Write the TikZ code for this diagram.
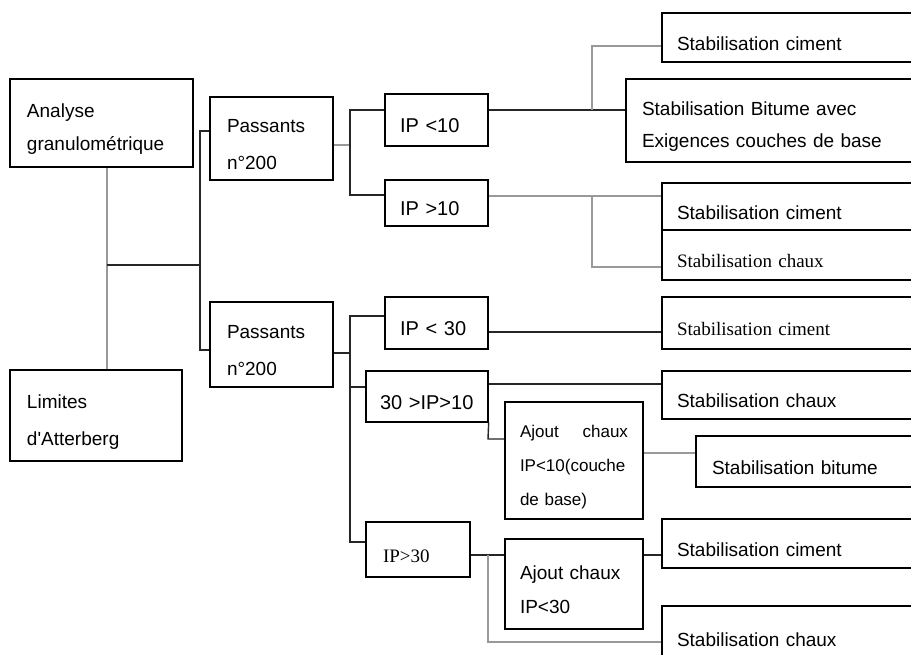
\documentclass[tikz,border=0pt]{standalone}
\usepackage{fontspec}
\newfontfamily\sansf{Liberation Sans}
\newfontfamily\romf{Liberation Serif}
\newcommand\fs[2]{\fontsize{#1}{#2}\selectfont}
\newcommand\xd{793.5}
\newcommand\ys{34}

\begin{document}
\begin{tikzpicture}[x=1pt,y=-1pt,
    boite/.style={draw=black,line width=1.3pt,align=left,inner ysep=0pt,inner xsep=16pt,text height=26pt,font=\sansf\fs{19}{\ys}},
    lien/.style={line width=1.4pt,black!85},
    gris/.style={line width=1.4pt,black!40}]
  \useasboundingbox (0,0) rectangle (911,655);
  \fill[white] (0,0) rectangle (911,655);
  \clip (0,0) rectangle (911,655);

  % colonne de gauche
  \node[boite,text width=149pt,inner xsep=17pt,minimum height=88pt,font=\sansf\fs{19}{33}] (ana) at (101.5,123) {Analyse\\granulométrique};
  \node[boite,text width=138pt,inner xsep=17pt,minimum height=91pt,font=\sansf\fs{19}{37}] (lim) at (96,415.5) {Limites\\d'Atterberg};
  \node[boite,text width=89pt,inner xsep=17pt,minimum height=83pt,font=\sansf\fs{19}{37}] (pas1) at (271.5,138.5) {Passants\\n°200};
  \node[boite,text width=89pt,inner xsep=17pt,minimum height=85pt,font=\sansf\fs{19}{37}] (pas2) at (271.5,344.5) {Passants\\n°200};

  % indices de plasticite
  \node[boite,text width=73pt,inner xsep=15pt,minimum height=52pt,font=\sansf\fs{20}{24}] (ipa) at (436.5,120) {IP~<10};
  \node[boite,text width=73pt,inner xsep=15pt,minimum height=46pt,font=\sansf\fs{20}{24}] (ipb) at (436.5,203) {IP~>10};
  \node[boite,text width=73pt,inner xsep=15pt,minimum height=52pt,font=\sansf\fs{20}{24}] (ipc) at (436.5,323) {IP~<~30};
  \node[boite,text width=94pt,inner xsep=14pt,minimum height=51pt,font=\sansf\fs{20}{24}] (ipd) at (427,396.5) {30~>IP>10};
  \node[boite,text width=70pt,inner xsep=17pt,minimum height=55pt,font=\romf\fs{19}{24}] (ipe) at (418,549.5) {IP>30};
  \node[boite,text width=108pt,inner xsep=15pt,minimum height=117pt,font=\sansf\fs{17}{34}] (aj1) at (574,460.5) {Ajout\hfill chaux\\IP<10(couche\\de base)};
  \node[boite,text width=108pt,inner xsep=15pt,minimum height=90pt] (aj2) at (574,584) {Ajout chaux\\IP<30};

  % stabilisations
  \foreach \n/\yc/\h/\ff/\t in {sc1/37.5/49/\sansf/Stabilisation ciment,
      sc2/206.5/47/\sansf/Stabilisation ciment, ch1/255/50/\romf/Stabilisation chaux,
      sc3/323/52/\romf/Stabilisation ciment, ch2/395/48/\sansf/Stabilisation chaux,
      sc4/543.5/49/\sansf/Stabilisation ciment, ch3/634/56/\sansf/Stabilisation chaux}
    \node[boite,text width=233pt,inner xsep=15pt,minimum height=\h pt,font=\ff\fs{19}{\ys}] (\n) at (\xd,\yc) {\t};
  \node[boite,text width=267pt,minimum height=83pt,font=\sansf\fs{19}{32}] (bit) at (775.5,120.5) {Stabilisation Bitume avec\\Exigences couches de base};
  \node[boite,text width=197pt,minimum height=51pt] (bitu) at (810.5,461.5) {Stabilisation bitume};

  % liaisons
  \coordinate (ja) at (107,265);
  \coordinate (jb) at (200,265);
  \coordinate (jb1) at (200,131);
  \coordinate (jb2) at (200,350);
  \draw[gris] (ja |- ana.south) -- (ja |- lim.north);
  \draw[lien] (ja) -- (jb);
  \draw[lien] (jb1 -| pas1.west) -- (jb1) -- (jb2) -- (jb2 -| pas2.west);

  \coordinate (jc) at (350,145);
  \coordinate (jc1) at (350,110);
  \coordinate (jc2) at (350,195);
  \draw[gris] (jc -| pas1.east) -- (jc);
  \draw[lien] (jc1 -| ipa.west) -- (jc1) -- (jc2) -- (jc2 -| ipb.west);

  \coordinate (j1) at (592,110);
  \coordinate (j1h) at (592,46);
  \draw[lien] (j1 -| ipa.east) -- (j1 -| bit.west);
  \draw[gris] (j1) -- (j1h) -- (j1h -| sc1.west);
  \coordinate (j2) at (592,196);
  \coordinate (j2b) at (592,267);
  \draw[gris] (j2 -| ipb.east) -- (j2 -| sc2.west);
  \draw[gris] (j2) -- (j2b) -- (j2b -| ch1.west);

  \coordinate (jd) at (350,353);
  \coordinate (jd1) at (350,316);
  \coordinate (jd2) at (350,387);
  \coordinate (jd3) at (350,542);
  \draw[lien] (jd -| pas2.east) -- (jd);
  \draw[lien] (jd1 -| ipc.west) -- (jd1) -- (jd3) -- (jd3 -| ipe.west);
  \draw[lien] (jd2) -- (jd2 -| ipd.west);

  \coordinate (je) at (570,332);
  \coordinate (jf) at (570,384);
  \coordinate (jg) at (488,439);
  \draw[lien] (je -| ipc.east) -- (je -| sc3.west);
  \draw[lien] (jf -| ipd.east) -- (jf -| ch2.west);
  \draw[lien] (ipd.south east) -- (jg) -- (jg -| aj1.west);
  \coordinate (jh) at (670,453);
  \draw[gris] (jh -| aj1.east) -- (jh -| bitu.west);

  \coordinate (ji) at (488,555);
  \coordinate (ji2) at (488,642);
  \coordinate (jk) at (650,555);
  \draw[lien] (ji -| ipe.east) -- (ji -| aj2.west);
  \draw[gris] (ji) -- (ji2) -- (ji2 -| ch3.west);
  \draw[lien] (jk -| aj2.east) -- (jk -| sc4.west);
%  \draw[gris] (jg) -- (jh);
\end{tikzpicture}
\end{document}
